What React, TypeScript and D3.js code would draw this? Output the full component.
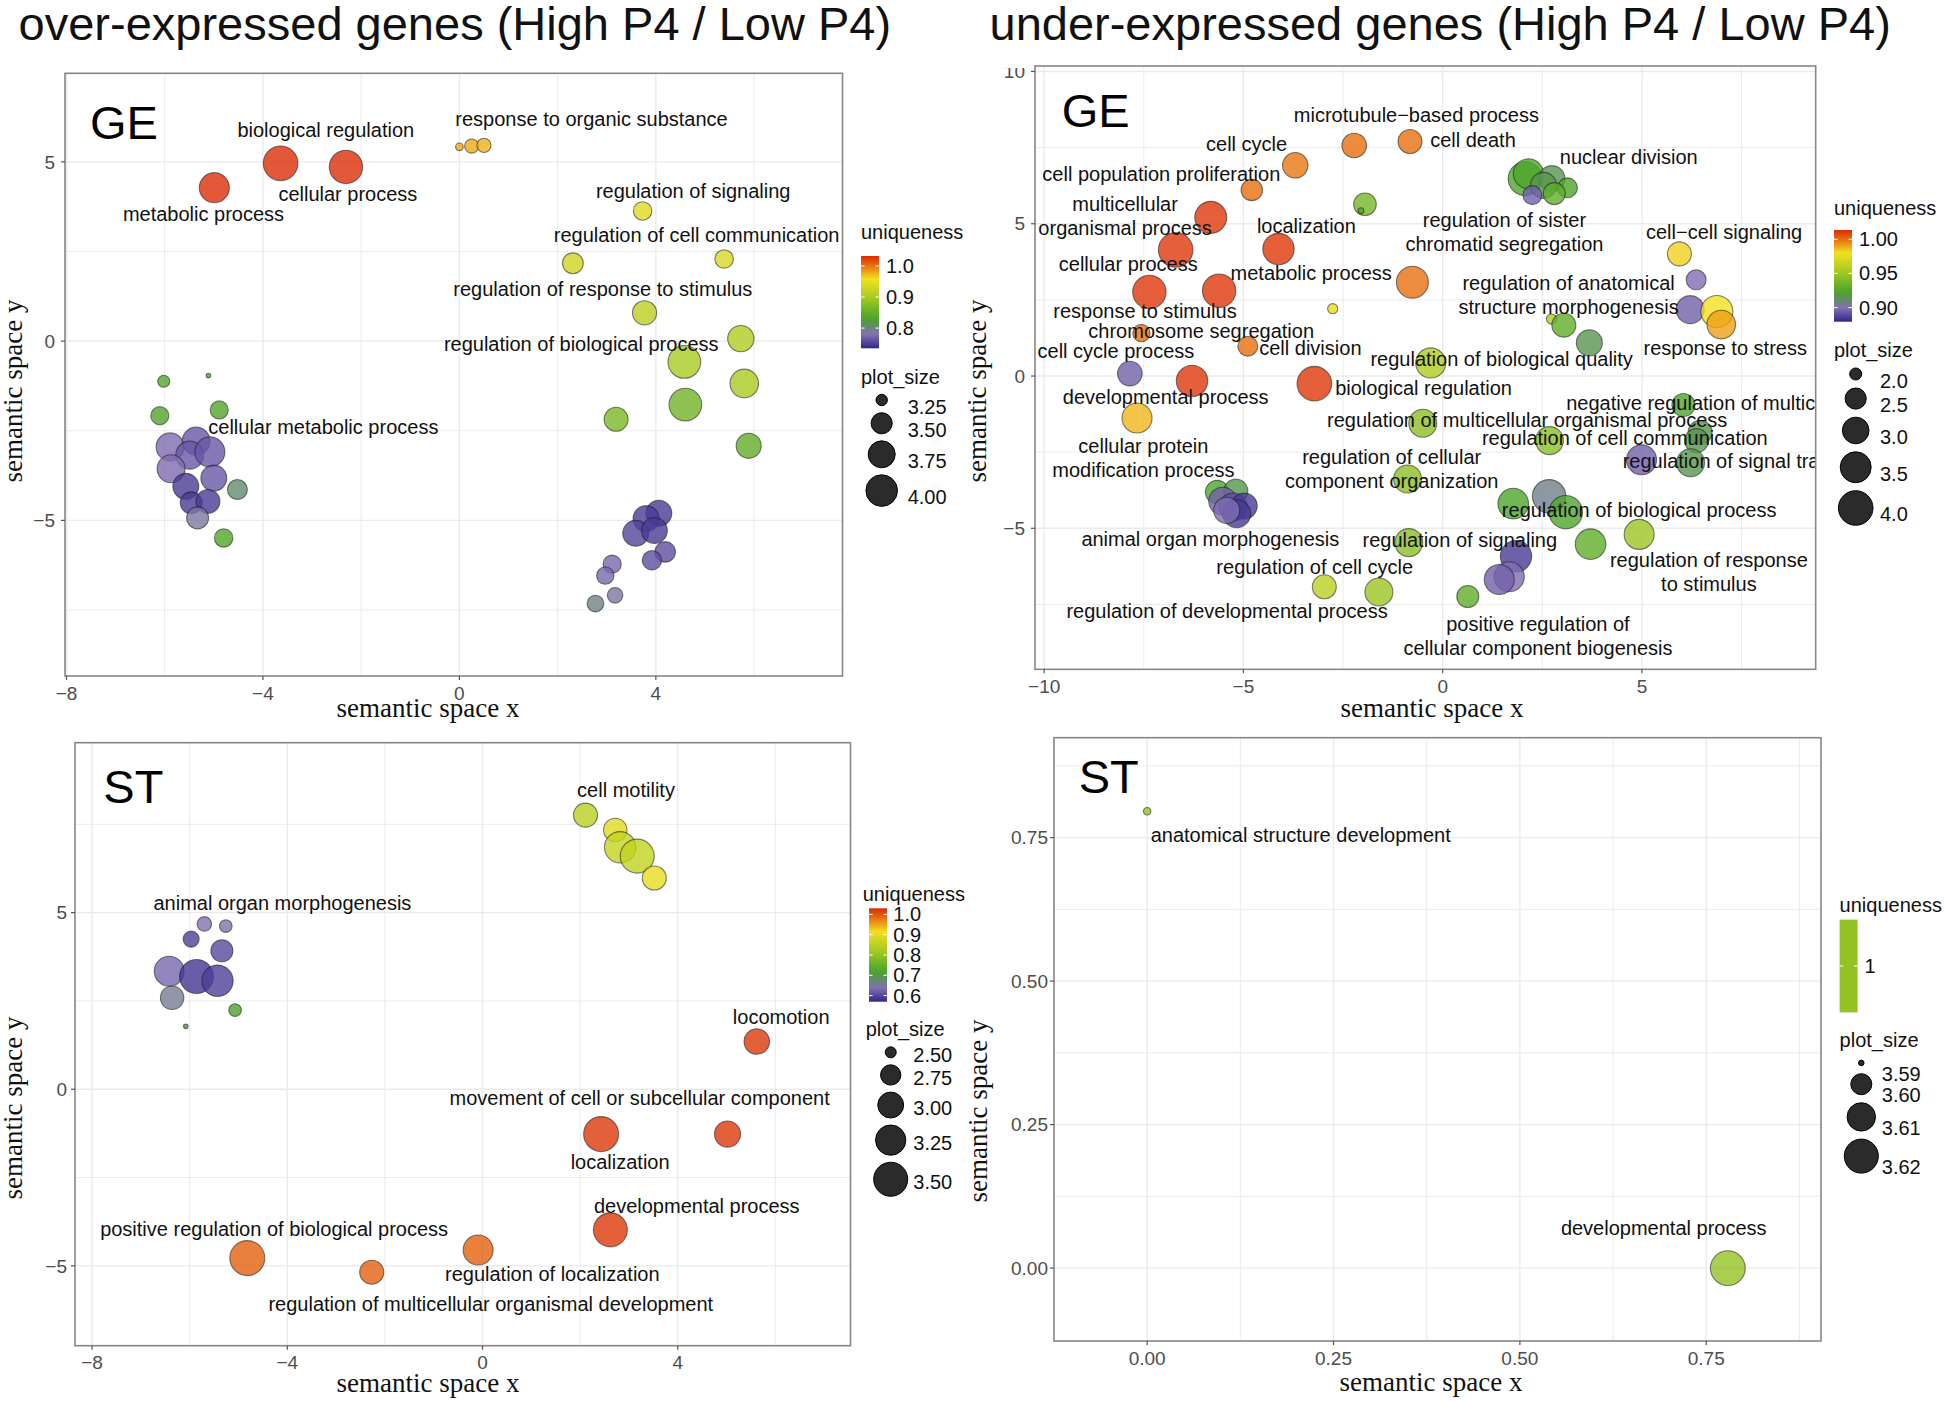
import React from "react";
import * as d3 from "d3";

type Pt = { x: number; y: number; u: number; s: number };
type Lb = { t: string; x: number; y: number };

// ---------- GE, over-expressed (top left) ----------
const geOverPts: Pt[] = [
  { x: -4.99, y: 4.28, u: 1.03, s: 3.91 },
  { x: -3.64, y: 4.96, u: 1.03, s: 4.19 },
  { x: -2.31, y: 4.86, u: 1.03, s: 4.11 },
  { x: 0.0, y: 5.42, u: 0.979, s: 3.21 },
  { x: 0.25, y: 5.44, u: 0.979, s: 3.3 },
  { x: 0.5, y: 5.46, u: 0.975, s: 3.3 },
  { x: 3.73, y: 3.63, u: 0.943, s: 3.41 },
  { x: 2.31, y: 2.17, u: 0.928, s: 3.49 },
  { x: 5.39, y: 2.29, u: 0.935, s: 3.41 },
  { x: 3.77, y: 0.79, u: 0.913, s: 3.62 },
  { x: 5.73, y: 0.07, u: 0.905, s: 3.72 },
  { x: 4.58, y: -0.58, u: 0.898, s: 4.07 },
  { x: 5.8, y: -1.18, u: 0.898, s: 3.83 },
  { x: 4.6, y: -1.77, u: 0.86, s: 4.07 },
  { x: 3.19, y: -2.18, u: 0.866, s: 3.61 },
  { x: 5.89, y: -2.92, u: 0.848, s: 3.66 },
  { x: 4.06, y: -4.8, u: 0.747, s: 3.7 },
  { x: 3.8, y: -4.95, u: 0.747, s: 3.7 },
  { x: 3.59, y: -5.36, u: 0.753, s: 3.7 },
  { x: 3.97, y: -5.28, u: 0.747, s: 3.7 },
  { x: 4.19, y: -5.88, u: 0.759, s: 3.48 },
  { x: 3.92, y: -6.11, u: 0.759, s: 3.44 },
  { x: 3.11, y: -6.22, u: 0.774, s: 3.4 },
  { x: 2.97, y: -6.54, u: 0.774, s: 3.38 },
  { x: 3.17, y: -7.09, u: 0.786, s: 3.33 },
  { x: 2.77, y: -7.32, u: 0.797, s: 3.36 },
  { x: -6.02, y: -1.12, u: 0.836, s: 3.26 },
  { x: -5.11, y: -0.96, u: 0.836, s: 3.2 },
  { x: -6.1, y: -2.08, u: 0.836, s: 3.4 },
  { x: -4.89, y: -1.92, u: 0.836, s: 3.4 },
  { x: -5.89, y: -2.95, u: 0.777, s: 3.8 },
  { x: -5.36, y: -2.79, u: 0.765, s: 3.8 },
  { x: -5.49, y: -3.18, u: 0.765, s: 3.8 },
  { x: -5.08, y: -3.09, u: 0.765, s: 3.91 },
  { x: -5.87, y: -3.56, u: 0.777, s: 3.8 },
  { x: -5.0, y: -3.82, u: 0.765, s: 3.7 },
  { x: -5.57, y: -4.05, u: 0.747, s: 3.7 },
  { x: -4.52, y: -4.14, u: 0.806, s: 3.46 },
  { x: -5.46, y: -4.51, u: 0.747, s: 3.53 },
  { x: -5.12, y: -4.47, u: 0.747, s: 3.61 },
  { x: -5.33, y: -4.93, u: 0.786, s: 3.53 },
  { x: -4.8, y: -5.49, u: 0.836, s: 3.41 },
];
const geOverLabels: Lb[] = [
  { t: "biological regulation", x: -2.72, y: 5.88 },
  { t: "cellular process", x: -2.27, y: 4.1 },
  { t: "metabolic process", x: -5.21, y: 3.54 },
  { t: "response to organic substance", x: 2.69, y: 6.19 },
  { t: "regulation of signaling", x: 4.76, y: 4.19 },
  { t: "regulation of cell communication", x: 4.83, y: 2.96 },
  { t: "regulation of response to stimulus", x: 2.92, y: 1.44 },
  { t: "regulation of biological process", x: 2.48, y: -0.09 },
  { t: "cellular metabolic process", x: -2.77, y: -2.4 },
];

// ---------- GE, under-expressed (top right) ----------
const geUnderPts: Pt[] = [
  { x: -2.22, y: 7.57, u: 1.0, s: 2.8 },
  { x: -0.82, y: 7.7, u: 1.0, s: 2.74 },
  { x: -3.7, y: 6.92, u: 0.998, s: 2.88 },
  { x: -4.79, y: 6.11, u: 1.0, s: 2.52 },
  { x: -1.95, y: 5.64, u: 0.937, s: 2.62 },
  { x: -2.05, y: 5.43, u: 0.925, s: 1.9 },
  { x: -5.82, y: 5.21, u: 1.011, s: 3.64 },
  { x: -6.7, y: 4.14, u: 1.011, s: 4.0 },
  { x: -4.12, y: 4.17, u: 1.011, s: 3.56 },
  { x: -0.76, y: 3.08, u: 1.0, s: 3.64 },
  { x: -7.36, y: 2.76, u: 1.011, s: 3.83 },
  { x: -5.61, y: 2.8, u: 1.011, s: 3.83 },
  { x: -2.76, y: 2.21, u: 0.976, s: 1.95 },
  { x: -7.56, y: 1.41, u: 1.0, s: 2.24 },
  { x: -4.89, y: 0.98, u: 1.0, s: 2.41 },
  { x: -0.3, y: 0.43, u: 0.955, s: 3.39 },
  { x: -7.85, y: 0.08, u: 0.895, s: 2.8 },
  { x: -6.29, y: -0.16, u: 1.011, s: 3.56 },
  { x: -3.22, y: -0.25, u: 1.011, s: 4.0 },
  { x: -7.67, y: -1.38, u: 0.987, s: 3.39 },
  { x: -0.5, y: -1.55, u: 0.944, s: 3.15 },
  { x: -0.88, y: -3.38, u: 0.944, s: 3.15 },
  { x: -5.66, y: -3.81, u: 0.924, s: 2.69 },
  { x: -5.19, y: -3.78, u: 0.916, s: 2.74 },
  { x: -5.52, y: -4.11, u: 0.895, s: 3.15 },
  { x: -5.26, y: -4.3, u: 0.89, s: 3.15 },
  { x: -4.98, y: -4.27, u: 0.885, s: 2.94 },
  { x: -5.17, y: -4.52, u: 0.885, s: 3.15 },
  { x: -5.42, y: -4.41, u: 0.899, s: 2.94 },
  { x: -0.85, y: -5.47, u: 0.944, s: 3.15 },
  { x: -2.97, y: -6.92, u: 0.96, s: 2.74 },
  { x: -1.6, y: -7.09, u: 0.949, s: 3.15 },
  { x: 0.63, y: -7.24, u: 0.93, s: 2.57 },
  { x: 2.07, y: 6.48, u: 0.924, s: 3.91 },
  { x: 2.15, y: 6.64, u: 0.924, s: 3.39 },
  { x: 2.74, y: 6.48, u: 0.916, s: 2.94 },
  { x: 2.53, y: 6.26, u: 0.916, s: 2.94 },
  { x: 3.13, y: 6.18, u: 0.924, s: 2.41 },
  { x: 2.8, y: 5.99, u: 0.93, s: 2.57 },
  { x: 2.25, y: 5.94, u: 0.895, s: 2.34 },
  { x: 5.94, y: 4.01, u: 0.983, s: 2.74 },
  { x: 6.36, y: 3.16, u: 0.899, s: 2.41 },
  { x: 6.21, y: 2.18, u: 0.895, s: 3.15 },
  { x: 6.88, y: 2.12, u: 0.98, s: 3.64 },
  { x: 6.99, y: 1.69, u: 0.991, s: 3.22 },
  { x: 2.73, y: 1.87, u: 0.955, s: 1.95 },
  { x: 3.04, y: 1.67, u: 0.93, s: 2.74 },
  { x: 3.68, y: 1.09, u: 0.916, s: 2.94 },
  { x: 6.04, y: -0.95, u: 0.924, s: 2.65 },
  { x: 6.46, y: -1.85, u: 0.916, s: 2.74 },
  { x: 6.37, y: -2.12, u: 0.916, s: 2.74 },
  { x: 2.68, y: -2.12, u: 0.944, s: 3.15 },
  { x: 4.99, y: -2.75, u: 0.895, s: 3.39 },
  { x: 6.22, y: -2.85, u: 0.916, s: 3.15 },
  { x: 2.67, y: -3.95, u: 0.906, s: 3.83 },
  { x: 1.77, y: -4.19, u: 0.924, s: 3.46 },
  { x: 3.09, y: -4.47, u: 0.924, s: 3.83 },
  { x: 4.93, y: -5.2, u: 0.949, s: 3.39 },
  { x: 3.71, y: -5.52, u: 0.93, s: 3.46 },
  { x: 1.84, y: -5.92, u: 0.885, s: 3.56 },
  { x: 1.67, y: -6.59, u: 0.899, s: 3.39 },
  { x: 1.42, y: -6.68, u: 0.895, s: 3.39 },
];
const geUnderLabels: Lb[] = [
  { t: "microtubule\u2212based process", x: -0.66, y: 8.56 },
  { t: "cell death", x: 0.76, y: 7.76 },
  { t: "cell cycle", x: -4.92, y: 7.62 },
  { t: "cell population proliferation", x: -7.06, y: 6.62 },
  { t: "multicellular\norganismal process", x: -7.97, y: 5.27 },
  { t: "localization", x: -3.42, y: 4.93 },
  { t: "cellular process", x: -7.89, y: 3.69 },
  { t: "metabolic process", x: -3.3, y: 3.38 },
  { t: "response to stimulus", x: -7.47, y: 2.12 },
  { t: "chromosome segregation", x: -6.06, y: 1.49 },
  { t: "cell cycle process", x: -8.2, y: 0.82 },
  { t: "cell division", x: -3.32, y: 0.92 },
  { t: "regulation of sister\nchromatid segregation", x: 1.55, y: 4.72 },
  { t: "nuclear division", x: 4.67, y: 7.19 },
  { t: "cell\u2212cell signaling", x: 7.06, y: 4.74 },
  { t: "regulation of anatomical\nstructure morphogenesis", x: 3.16, y: 2.66 },
  { t: "response to stress", x: 7.09, y: 0.91 },
  { t: "regulation of biological quality", x: 1.48, y: 0.55 },
  { t: "biological regulation", x: -0.48, y: -0.39 },
  { t: "developmental process", x: -6.95, y: -0.69 },
  { t: "cellular protein\nmodification process", x: -7.51, y: -2.68 },
  { t: "regulation of multicellular organismal process", x: 2.12, y: -1.45 },
  { t: "negative regulation of multicellular organismal process", x: 9.14, y: -0.87 },
  { t: "regulation of cell communication", x: 4.57, y: -2.02 },
  { t: "regulation of signal transduction", x: 8.06, y: -2.78 },
  { t: "regulation of cellular\ncomponent organization", x: -1.28, y: -3.04 },
  { t: "regulation of biological process", x: 4.93, y: -4.41 },
  { t: "animal organ morphogenesis", x: -5.83, y: -5.36 },
  { t: "regulation of signaling", x: 0.43, y: -5.39 },
  { t: "regulation of cell cycle", x: -3.21, y: -6.26 },
  { t: "regulation of developmental process", x: -5.41, y: -7.7 },
  { t: "regulation of response\nto stimulus", x: 6.68, y: -6.44 },
  { t: "positive regulation of\ncellular component biogenesis", x: 2.39, y: -8.55 },
];

// ---------- ST, over-expressed (bottom left) ----------
const stOverPts: Pt[] = [
  { x: -5.7, y: 4.68, u: 0.639, s: 2.57 },
  { x: -5.26, y: 4.62, u: 0.644, s: 2.53 },
  { x: -5.97, y: 4.25, u: 0.593, s: 2.61 },
  { x: -5.34, y: 3.92, u: 0.602, s: 2.82 },
  { x: -6.42, y: 3.34, u: 0.63, s: 3.23 },
  { x: -5.86, y: 3.19, u: 0.584, s: 3.5 },
  { x: -5.43, y: 3.07, u: 0.593, s: 3.32 },
  { x: -6.36, y: 2.59, u: 0.657, s: 2.88 },
  { x: -5.07, y: 2.24, u: 0.717, s: 2.53 },
  { x: -6.08, y: 1.78, u: 0.708, s: 2.45 },
  { x: 2.11, y: 7.76, u: 0.846, s: 2.91 },
  { x: 2.72, y: 7.34, u: 0.892, s: 2.88 },
  { x: 2.82, y: 6.85, u: 0.86, s: 3.32 },
  { x: 3.17, y: 6.6, u: 0.855, s: 3.5 },
  { x: 3.52, y: 5.98, u: 0.901, s: 2.91 },
  { x: 5.62, y: 1.35, u: 1.02, s: 2.98 },
  { x: 2.43, y: -1.27, u: 1.02, s: 3.57 },
  { x: 5.02, y: -1.27, u: 1.02, s: 3.01 },
  { x: 2.62, y: -3.98, u: 1.02, s: 3.5 },
  { x: -4.82, y: -4.78, u: 0.993, s: 3.57 },
  { x: -0.09, y: -4.55, u: 0.993, s: 3.23 },
  { x: -2.27, y: -5.18, u: 0.993, s: 2.91 },
];
const stOverLabels: Lb[] = [
  { t: "animal organ morphogenesis", x: -4.1, y: 5.28 },
  { t: "cell motility", x: 2.94, y: 8.47 },
  { t: "locomotion", x: 6.12, y: 2.04 },
  { t: "movement of cell or subcellular component", x: 3.22, y: -0.25 },
  { t: "localization", x: 2.82, y: -2.07 },
  { t: "developmental process", x: 4.39, y: -3.3 },
  { t: "positive regulation of biological process", x: -4.27, y: -3.96 },
  { t: "regulation of localization", x: 1.43, y: -5.23 },
  { t: "regulation of multicellular organismal development", x: 0.17, y: -6.08 },
];

// ---------- ST, under-expressed (bottom right) ----------
const stUnderPts: Pt[] = [
  { x: 0.0, y: 0.796, u: 1, s: 3.5904 },
  { x: 0.779, y: 0.0, u: 1, s: 3.6215 },
];
const stUnderLabels: Lb[] = [
  { t: "anatomical structure development", x: 0.206, y: 0.755 },
  { t: "developmental process", x: 0.693, y: 0.069 },
];

// ---------- tick values ----------
const ticks8 = [-8, -4, 0, 4];
const minor8 = [-6, -2, 2, 6];
const ticks5y = [-5, 0, 5];
const ticks10x = [-10, -5, 0, 5];
const ticks10y = [-5, 0, 5, 10];
const minor10 = [-7.5, -2.5, 2.5, 7.5];
const ticksQ = [0, 0.25, 0.5, 0.75];
const minorQ = [0.125, 0.375, 0.625, 0.875];

const SANS = "'Liberation Sans', Arial, Helvetica, sans-serif";
const SERIF = "'Liberation Serif', 'Times New Roman', serif";

// colour ramp for uniqueness, 0 = panel min, 1 = panel max
const rampStops: [number, string][] = [
  [0.0, "#33258a"],
  [0.15, "#8270b2"],
  [0.32, "#48a32a"],
  [0.55, "#a8ca22"],
  [0.75, "#f2e020"],
  [0.88, "#ea7a10"],
  [1.0, "#da2a08"],
];
const ramp = d3
  .scaleLinear<string>()
  .domain(rampStops.map((d) => d[0]))
  .range(rampStops.map((d) => d[1]))
  .interpolate(d3.interpolateRgb)
  .clamp(true);

type Panel = {
  id: string;
  tag: string;
  tagPos: [number, number];
  box: [number, number, number, number];
  xDomain: [number, number];
  yDomain: [number, number];
  xTicks: number[];
  yTicks: number[];
  xMinor: number[];
  yMinor: number[];
  fmt: string;
  pts: Pt[];
  labels: Lb[];
  xTitle: [number, number];
  yTitle: [number, number];
  yGap: number;
  uDomain: [number, number];
  uTicks: number[];
  uFmt: string;
  sDomain: [number, number];
  sRange: [number, number];
  sTicks: number[];
  sFmt: string;
  leg: {
    titleX: number;
    titleY: number;
    barX: number;
    barTop: number;
    barBottom: number;
    barLabelX: number;
    sTitleX: number;
    sTitleY: number;
    keyX: number;
    keyFirst: number;
    keyLabelX: number;
    keyDy: number;
    keyPad: number;
  };
};

const panels: Panel[] = [
  {
    id: "geOver",
    tag: "GE",
    tagPos: [90, 139],
    box: [65, 73.3, 842.5, 676],
    xDomain: [-8.03, 7.8],
    yDomain: [-9.34, 7.47],
    xTicks: ticks8,
    yTicks: ticks5y,
    xMinor: minor8,
    yMinor: [-7.5, -2.5, 2.5],
    fmt: "d",
    pts: geOverPts,
    labels: geOverLabels,
    xTitle: [428, 717],
    yTitle: [22, 391],
    yGap: 10,
    uDomain: [0.735, 1.032],
    uTicks: [1.0, 0.9, 0.8],
    uFmt: ".1f",
    sDomain: [3.2, 4.19],
    sRange: [2.33, 17.3],
    sTicks: [3.25, 3.5, 3.75, 4.0],
    sFmt: ".2f",
    leg: {
      titleX: 861, titleY: 231.7, barX: 861, barTop: 256, barBottom: 348.3, barLabelX: 886,
      sTitleX: 861, sTitleY: 376.7, keyX: 881.7, keyFirst: 400, keyLabelX: 907.7, keyDy: 6.5, keyPad: 7,
    },
  },
  {
    id: "geUnder",
    tag: "GE",
    tagPos: [1061.7, 126.7],
    box: [1035, 66, 1815.7, 669.3],
    xDomain: [-10.23, 9.36],
    yDomain: [-9.63, 10.18],
    xTicks: ticks10x,
    yTicks: ticks10y,
    xMinor: minor10,
    yMinor: minor10,
    fmt: "d",
    pts: geUnderPts,
    labels: geUnderLabels,
    xTitle: [1432, 717],
    yTitle: [986, 391],
    yGap: 10,
    uDomain: [0.8793, 1.0136],
    uTicks: [1.0, 0.95, 0.9],
    uFmt: ".2f",
    sDomain: [1.9, 4.0],
    sRange: [2.85, 17.3],
    sTicks: [2.0, 2.5, 3.0, 3.5, 4.0],
    sFmt: ".1f",
    leg: {
      titleX: 1834, titleY: 208, barX: 1834, barTop: 230, barBottom: 321.7, barLabelX: 1859,
      sTitleX: 1834, sTitleY: 350, keyX: 1855.7, keyFirst: 374, keyLabelX: 1880, keyDy: 6.5, keyPad: 8,
    },
  },
  {
    id: "stOver",
    tag: "ST",
    tagPos: [103.3, 803.3],
    box: [75, 742.7, 850.5, 1345.7],
    xDomain: [-8.35, 7.54],
    yDomain: [-7.26, 9.81],
    xTicks: ticks8,
    yTicks: ticks5y,
    xMinor: minor8,
    yMinor: [-2.5, 2.5, 7.5],
    fmt: "d",
    pts: stOverPts,
    labels: stOverLabels,
    xTitle: [428, 1391.5],
    yTitle: [22, 1108],
    yGap: 8,
    uDomain: [0.57, 1.03],
    uTicks: [1.0, 0.9, 0.8, 0.7, 0.6],
    uFmt: ".1f",
    sDomain: [2.45, 3.6],
    sRange: [2.29, 17.69],
    sTicks: [2.5, 2.75, 3.0, 3.25, 3.5],
    sFmt: ".2f",
    leg: {
      titleX: 862.7, titleY: 894, barX: 869, barTop: 908.3, barBottom: 1001.7, barLabelX: 893.3,
      sTitleX: 865.7, sTitleY: 1029.3, keyX: 890.7, keyFirst: 1052.3, keyLabelX: 913.3, keyDy: 3, keyPad: 7,
    },
  },
  {
    id: "stUnder",
    tag: "ST",
    tagPos: [1078.7, 793.3],
    box: [1054, 737.7, 1821, 1341],
    xDomain: [-0.125, 0.904],
    yDomain: [-0.127, 0.924],
    xTicks: ticksQ,
    yTicks: ticksQ,
    xMinor: minorQ,
    yMinor: minorQ,
    fmt: ".2f",
    pts: stUnderPts,
    labels: stUnderLabels,
    xTitle: [1431, 1391],
    yTitle: [987, 1111],
    yGap: 6,
    uDomain: [1, 1],
    uTicks: [1],
    uFmt: "d",
    sDomain: [3.5898, 3.6215],
    sRange: [1.5, 17.4],
    sTicks: [3.59, 3.6, 3.61, 3.62],
    sFmt: ".2f",
    leg: {
      titleX: 1839.6, titleY: 905.4, barX: 1839.6, barTop: 919.6, barBottom: 1012.4, barLabelX: 1864.4,
      sTitleX: 1839.6, sTitleY: 1040.2, keyX: 1861.3, keyFirst: 1062.9, keyLabelX: 1881.8, keyDy: 11, keyPad: 8,
    },
  },
];

function PanelView({ p }: { p: Panel }) {
  const [x0, y0, x1, y1] = p.box;
  const x = d3.scaleLinear().domain(p.xDomain).range([x0, x1]);
  const y = d3.scaleLinear().domain(p.yDomain).range([y1, y0]);
  const [lo, hi] = p.uDomain;
  const col = (u: number) => ramp(hi > lo ? (u - lo) / (hi - lo) : 0.5);
  const sz = d3
    .scaleSqrt()
    .domain([0, p.sDomain[1] - p.sDomain[0]])
    .range([0, p.sRange[1] - p.sRange[0]])
    .clamp(true);
  const rad = (v: number) => p.sRange[0] + sz(Math.max(0, v - p.sDomain[0]));
  const tf = d3.format(p.fmt);
  const L = p.leg;
  const barW = 18;
  const bar = d3.scaleLinear().domain([lo, hi]).range([L.barBottom, L.barTop]);
  const gid = `grad-${p.id}`;
  const cid = `clip-${p.id}`;

  // size legend key positions
  const keys: { v: number; r: number; cy: number }[] = [];
  let prevH = 0;
  let cy = L.keyFirst;
  p.sTicks.forEach((v, i) => {
    const r = rad(v);
    const h = 2 * r + L.keyPad;
    if (i > 0) cy += (prevH + h) / 2;
    keys.push({ v, r, cy });
    prevH = h;
  });

  const gridStroke = "#ebebeb";
  return (
    <g>
      <defs>
        <clipPath id={cid}>
          <rect x={x0} y={y0} width={x1 - x0} height={y1 - y0} />
        </clipPath>
        <linearGradient id={gid} x1="0" y1="1" x2="0" y2="0">
          {d3.range(21).map((i) => (
            <stop key={i} offset={`${i * 5}%`} stopColor={hi > lo ? ramp(i / 20) : ramp(0.5)} />
          ))}
        </linearGradient>
      </defs>
      {/* grid */}
      {p.xMinor.map((v) => (
        <line key={`xm${v}`} x1={x(v)} x2={x(v)} y1={y0} y2={y1} stroke={gridStroke} strokeWidth={1} />
      ))}
      {p.yMinor.map((v) => (
        <line key={`ym${v}`} y1={y(v)} y2={y(v)} x1={x0} x2={x1} stroke={gridStroke} strokeWidth={1} />
      ))}
      {p.xTicks.map((v) => (
        <line key={`xg${v}`} x1={x(v)} x2={x(v)} y1={y0} y2={y1} stroke={gridStroke} strokeWidth={1.4} />
      ))}
      {p.yTicks.map((v) => (
        <line key={`yg${v}`} y1={y(v)} y2={y(v)} x1={x0} x2={x1} stroke={gridStroke} strokeWidth={1.4} />
      ))}
      {/* bubbles and labels */}
      <g clipPath={`url(#${cid})`}>
        {p.pts.map((d, i) => (
          <circle
            key={i}
            cx={x(d.x)}
            cy={y(d.y)}
            r={rad(d.s)}
            fill={col(d.u)}
            fillOpacity={0.8}
            stroke="#1a1a1a"
            strokeOpacity={0.55}
            strokeWidth={1.1}
          />
        ))}
        {p.labels.map((d, i) => {
          const lines = d.t.split("\n");
          const lh = 24;
          const top = y(d.y) - ((lines.length - 1) * lh) / 2;
          return (
            <text key={i} textAnchor="middle" fontSize={20} fill="#111">
              {lines.map((ln, j) => (
                <tspan key={j} x={x(d.x)} y={top + j * lh} dy="0.35em">
                  {ln}
                </tspan>
              ))}
            </text>
          );
        })}
      </g>
      {/* frame */}
      <rect x={x0} y={y0} width={x1 - x0} height={y1 - y0} fill="none" stroke="#8c8580" strokeWidth={1.6} />
      <text x={p.tagPos[0]} y={p.tagPos[1]} fontSize={47} fill="#000">
        {p.tag}
      </text>
      {/* axes */}
      {p.xTicks.map((v) => (
        <g key={`xt${v}`}>
          <line x1={x(v)} x2={x(v)} y1={y1} y2={y1 + 4} stroke="#555" strokeWidth={1.2} />
          <text x={x(v)} y={y1 + 17} dy="0.35em" textAnchor="middle" fontSize={19} fill="#4d4d4d">
            {tf(v)}
          </text>
        </g>
      ))}
      {p.yTicks.map((v) => (
        <g key={`yt${v}`}>
          <line x1={x0 - 4} x2={x0} y1={y(v)} y2={y(v)} stroke="#555" strokeWidth={1.2} />
          <text x={x0 - p.yGap} y={y(v)} dy="0.35em" textAnchor="end" fontSize={19} fill="#4d4d4d">
            {tf(v)}
          </text>
        </g>
      ))}
      <text x={p.xTitle[0]} y={p.xTitle[1]} textAnchor="middle" fontFamily={SERIF} fontSize={27} fill="#111">
        semantic space x
      </text>
      <text
        transform={`translate(${p.yTitle[0]},${p.yTitle[1]}) rotate(-90)`}
        textAnchor="middle"
        fontFamily={SERIF}
        fontSize={27}
        fill="#111"
      >
        semantic space y
      </text>
      {/* colour legend */}
      <text x={L.titleX} y={L.titleY} dy="0.35em" fontSize={20} fill="#111">
        uniqueness
      </text>
      <rect x={L.barX} y={L.barTop} width={barW} height={L.barBottom - L.barTop} fill={`url(#${gid})`} />
      {p.uTicks.map((v) => {
        const ty = hi > lo ? bar(v) : (L.barTop + L.barBottom) / 2;
        return (
          <g key={`u${v}`}>
            <line x1={L.barX} x2={L.barX + 3.6} y1={ty} y2={ty} stroke="#fff" strokeWidth={1} />
            <line x1={L.barX + barW - 3.6} x2={L.barX + barW} y1={ty} y2={ty} stroke="#fff" strokeWidth={1} />
            <text x={L.barLabelX} y={ty} dy="0.35em" fontSize={20} fill="#111">
              {d3.format(p.uFmt)(v)}
            </text>
          </g>
        );
      })}
      {/* size legend */}
      <text x={L.sTitleX} y={L.sTitleY} dy="0.35em" fontSize={20} fill="#111">
        plot_size
      </text>
      {keys.map((k) => (
        <g key={`k${k.v}`}>
          <circle cx={L.keyX} cy={k.cy} r={k.r} fill="#2b2b2b" stroke="#000" strokeWidth={1} />
          <text x={L.keyLabelX} y={k.cy + L.keyDy} dy="0.35em" fontSize={20} fill="#111">
            {d3.format(p.sFmt)(k.v)}
          </text>
        </g>
      ))}
    </g>
  );
}

export default function App() {
  return (
    <svg
      width={1944}
      height={1401}
      viewBox="0 0 1944 1401"
      style={{ position: "absolute", left: 0, top: 0, display: "block" }}
      fontFamily={SANS}
    >
      <rect width={1944} height={1401} fill="#fff" />
      {panels.map((p) => (
        <PanelView key={p.id} p={p} />
      ))}
      {/* the source crop cuts the top of the "10" tick label */}
      <rect x={990} y={45} width={44} height={23} fill="#fff" />
      <text x={18.6} y={40} fontSize={47} fill="#111">
        over-expressed genes (High P4 / Low P4)
      </text>
      <text x={989.5} y={40} fontSize={47} fill="#111">
        under-expressed genes (High P4 / Low P4)
      </text>
    </svg>
  );
}
